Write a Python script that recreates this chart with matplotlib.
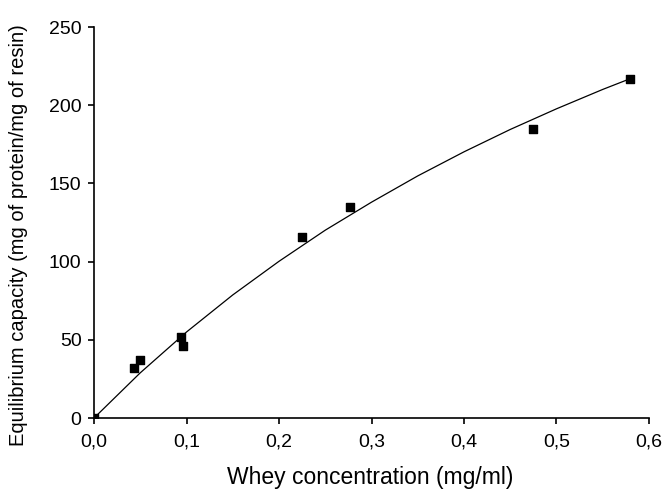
# ---------- Whey adsorption isotherm ----------
import numpy as np, matplotlib
matplotlib.use("Agg")
import matplotlib.pyplot as plt
from matplotlib.ticker import FuncFormatter

plt.rcParams["font.family"] = ["Liberation Sans", "DejaVu Sans"]

# --- measured points ---
conc     = [0.0, 0.043, 0.050, 0.094, 0.096, 0.225, 0.277, 0.475, 0.580]   # mg/ml
capacity = [0.0, 32, 37, 52, 46, 116, 135, 185, 217]                        # mg/mg

# --- fitted curve ---
fit_x = [0.0, 0.05, 0.10, 0.15, 0.20, 0.25, 0.30, 0.35, 0.40, 0.45, 0.50, 0.55, 0.582]
fit_y = [0.0, 28.9, 55.0, 78.7, 100.2, 120.1, 138.0, 154.8, 170.2, 184.5, 197.7, 210.1, 217.5]

fig = plt.figure(figsize=(6.64, 4.93), dpi=100)
ax = fig.add_axes([0.1416, 0.1521, 0.8358, 0.7931])

ax.plot(fit_x, fit_y, color="black", linewidth=0.9)
ax.scatter(conc, capacity, marker="s", s=34, color="black", zorder=3)

ax.set_xlim(0, 0.6)
ax.set_ylim(0, 250)
ax.set_xticks(np.arange(0, 0.61, 0.1))
ax.set_yticks(np.arange(0, 251, 50))
ax.xaxis.set_major_formatter(FuncFormatter(lambda v, _: f"{v:.1f}".replace(".", ",")))

for s in ["top", "right"]:
    ax.spines[s].set_visible(False)
for s in ["left", "bottom"]:
    ax.spines[s].set_linewidth(1.2)
ax.tick_params(direction="out", length=4, width=1.2, labelsize=14)
ax.tick_params(axis="x", pad=7)
ax.tick_params(axis="y", pad=5)

ax.set_xlabel("Whey concentration (mg/ml)", fontsize=16.5)
ax.set_ylabel("Equilibrium capacity (mg of protein/mg of resin)", fontsize=14.5)
ax.xaxis.set_label_coords(0.497, -0.123)
ax.yaxis.set_label_coords(-0.119, 0.468)

fig.savefig("out.png", dpi=100)
